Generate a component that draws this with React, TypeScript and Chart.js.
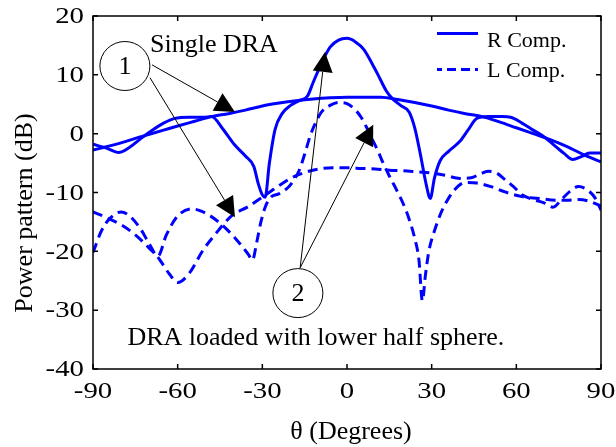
import React, { useEffect, useRef } from "react";
import { Chart, registerables } from "chart.js";

Chart.register(...registerables);

// ---- data (theta in degrees, power in dB) ----
const singleR_x = [-90,-86,-81,-75,-70,-65,-60,-54,-48,-42,-36,-30,-24,-18,-12,-6,0,6,12,18,24,30,36,42,48,54,60,66,72,78,84,90];
const singleR_y = [-2.8,-2.3,-1.7,-0.8,-0.1,0.6,1.3,2.1,2.9,3.4,4.0,4.7,5.2,5.6,5.9,6.1,6.2,6.2,6.2,5.8,5.3,4.7,4.0,3.4,2.9,2.0,1.0,0.0,-1.0,-2.2,-3.6,-4.8];

const loadedR_x = [-90,-85,-81,-77,-73,-69,-65,-61,-56,-51,-48,-44,-40,-36,-33,-31.5,-30,-29,-27.5,-25.5,-23,-20,-17,-14,-12,-9,-6,-3,0,3,6,9,11,14,16,19,22,24,26,28,29.5,31,33,36,40,43,46,50,55,58,62,66,70,74,77,80,83,86,90];
const loadedR_y = [-1.8,-2.5,-3.2,-2.3,-0.8,0.6,1.8,2.6,2.8,2.8,2.9,0.8,-1.8,-3.8,-5.6,-8.4,-10.4,-10.8,-5.0,0.7,3.4,4.8,5.6,6.4,8.7,12.0,14.7,15.9,16.2,15.6,14.3,11.8,10.0,7.2,6.0,4.8,3.7,1.0,-3.5,-8.5,-11.0,-7.5,-4.6,-3.0,-1.3,0.7,2.6,2.9,2.9,2.8,1.8,0.6,-0.6,-2.2,-3.4,-4.4,-3.9,-3.3,-3.3];

const singleL_x = [-90,-85,-80,-75,-70,-67,-63,-60,-56,-51,-46,-41,-35,-30,-27,-24,-20,-15,-10,-5,0,5,10,15,20,25,30,35,40,44,47,50,53,56,59,62,66,70,73,76,79,82,85,88,90];
const singleL_y = [-13.3,-14.3,-15.5,-17.2,-19.5,-21.0,-23.8,-25.3,-23.8,-19.8,-16.7,-14.0,-12.4,-10.8,-9.8,-8.8,-7.6,-6.6,-6.0,-5.8,-5.8,-5.9,-6.0,-6.2,-6.3,-6.5,-6.7,-7.1,-7.6,-7.5,-6.9,-6.4,-6.7,-7.8,-9.0,-10.4,-11.2,-11.8,-12.5,-11.2,-9.8,-9.0,-9.5,-11.0,-13.0];

const loadedL_x = [-90,-87,-84,-80,-77,-73,-70,-67,-64,-60,-55,-51,-45,-39,-35,-33.5,-32,-30.5,-29,-27,-24,-21,-19,-17,-15,-13,-11,-9,-6,-3,0,3,5,7,9,11,13,15,17.5,20,22,24,25.5,26.7,27.8,29,31,33,35,38,42,46,51,56,62,68,74,78,82,86,90];
const loadedL_y = [-20.2,-16.5,-14.4,-13.3,-14.0,-16.3,-18.8,-20.8,-17.2,-14.0,-12.8,-13.3,-15.2,-18.1,-20.5,-21.5,-18.5,-15.0,-12.5,-10.8,-10.2,-9.2,-8.0,-6.3,-3.5,-0.3,2.0,3.7,4.8,5.3,5.1,4.0,2.8,1.0,-1.0,-3.0,-5.2,-7.2,-9.5,-12.0,-14.5,-17.8,-21.5,-28.4,-24.0,-20.0,-16.5,-13.8,-11.8,-9.6,-8.3,-8.4,-9.0,-9.9,-10.7,-11.0,-11.3,-11.3,-11.2,-11.5,-12.3];

const xTicks = [-90, -60, -30, 0, 30, 60, 90];
const yTicks = [-40, -30, -20, -10, 0, 10, 20];

const legendLabels = ["R Comp.", "L Comp."];
const xTitle = "θ (Degrees)";
const yTitle = "Power pattern (dB)";
const noteSingle = "Single DRA";
const noteLoaded = "DRA loaded with lower half sphere.";

// annotation anchors in data units [theta, dB]
const circle1 = [-78.7, 11.5];
const circle2 = [-17.4, -27.1];
const arrows = [
  { from: [-69.1, 11.7], to: [-39.7, 3.7] },
  { from: [-69.8, 9.5], to: [-39.7, -14.2] },
  { from: [-16.6, -22.8], to: [-7.8, 13.9] },
  { from: [-16.6, -22.8], to: [9.3, 1.5] },
];
const singleTextPos = [-69.8, 13.9];
const loadedTextPos = [-77.8, -35.9];

const toPts = (xs: number[], ys: number[]) => xs.map((x, i) => ({ x, y: ys[i] }));

const SERIF = "'Liberation Serif', 'Times New Roman', serif";
const BLUE = "rgb(0,0,255)";
const STRETCH = 1.2;

const decor = {
  id: "decor",
  afterDraw(chart: any) {
    const ctx = chart.ctx;
    const { left, right, top, bottom } = chart.chartArea;
    const xs = chart.scales.x;
    const ys = chart.scales.y;
    const px = (v: number[]) => [xs.getPixelForValue(v[0]), ys.getPixelForValue(v[1])];
    ctx.save();
    // frame
    ctx.strokeStyle = "#000";
    ctx.lineWidth = 1.5;
    ctx.strokeRect(left, top, right - left, bottom - top);
    // inward ticks
    ctx.beginPath();
    xTicks.forEach((t) => {
      const x = xs.getPixelForValue(t);
      ctx.moveTo(x, bottom); ctx.lineTo(x, bottom - 5);
      ctx.moveTo(x, top); ctx.lineTo(x, top + 5);
    });
    yTicks.forEach((t) => {
      const y = ys.getPixelForValue(t);
      ctx.moveTo(left, y); ctx.lineTo(left + 5, y);
      ctx.moveTo(right, y); ctx.lineTo(right - 5, y);
    });
    ctx.stroke();

    // tick labels (slightly widened serif, like the source figure)
    ctx.fillStyle = "#000";
    ctx.font = `24px ${SERIF}`;
    ctx.textBaseline = "middle";
    ctx.textAlign = "right";
    yTicks.forEach((t) => {
      const y = ys.getPixelForValue(t);
      ctx.save();
      ctx.translate(left - 9, y + 1);
      ctx.scale(STRETCH, 1);
      ctx.fillText(String(t), 0, 0);
      ctx.restore();
    });
    ctx.textAlign = "center";
    xTicks.forEach((t) => {
      const x = xs.getPixelForValue(t);
      ctx.save();
      ctx.translate(x, bottom + 23);
      ctx.scale(STRETCH, 1);
      ctx.fillText(String(t), 0, 0);
      ctx.restore();
    });

    // legend
    ctx.lineWidth = 3;
    ctx.strokeStyle = BLUE;
    ctx.beginPath();
    ctx.moveTo(437, 33.5); ctx.lineTo(478, 33.5);
    ctx.stroke();
    ctx.setLineDash([9, 5]);
    ctx.lineDashOffset = 4;
    ctx.beginPath();
    ctx.moveTo(437, 69.5); ctx.lineTo(478, 69.5);
    ctx.stroke();
    ctx.setLineDash([]);
    ctx.lineDashOffset = 0;
    ctx.fillStyle = "#000";
    ctx.font = `22px ${SERIF}`;
    ctx.textAlign = "left";
    ctx.textBaseline = "alphabetic";
    ctx.fillText(legendLabels[0], 487, 47);
    ctx.fillText(legendLabels[1], 487, 77);

    // notes
    ctx.font = `26px ${SERIF}`;
    const s = px(singleTextPos);
    ctx.fillText(noteSingle, s[0], s[1]);
    const l = px(loadedTextPos);
    ctx.fillText(noteLoaded, l[0], l[1]);

    // circles
    ctx.strokeStyle = "#000";
    ctx.lineWidth = 1;
    [[circle1, "1"], [circle2, "2"]].forEach(([c, lab]: any) => {
      const p = px(c);
      ctx.beginPath();
      ctx.ellipse(p[0], p[1], 25, 24.5, 0, 0, Math.PI * 2);
      ctx.stroke();
      ctx.textAlign = "center";
      ctx.textBaseline = "middle";
      ctx.fillText(lab, p[0], p[1] + 1);
    });

    // arrows
    arrows.forEach((a) => {
      const p0 = px(a.from);
      const p1 = px(a.to);
      const ang = Math.atan2(p1[1] - p0[1], p1[0] - p0[0]);
      const L = 20, W = 10;
      const bx = p1[0] - L * Math.cos(ang);
      const by = p1[1] - L * Math.sin(ang);
      ctx.beginPath();
      ctx.moveTo(p0[0], p0[1]);
      ctx.lineTo(bx, by);
      ctx.stroke();
      ctx.beginPath();
      ctx.moveTo(p1[0], p1[1]);
      ctx.lineTo(bx + W * Math.sin(ang), by - W * Math.cos(ang));
      ctx.lineTo(bx - W * Math.sin(ang), by + W * Math.cos(ang));
      ctx.closePath();
      ctx.fillStyle = "#000";
      ctx.fill();
    });

    // axis titles
    ctx.fillStyle = "#000";
    ctx.font = `26px ${SERIF}`;
    ctx.textAlign = "center";
    ctx.textBaseline = "middle";
    ctx.fillText(xTitle, (left + right) / 2 + 4, 432);
    ctx.save();
    ctx.translate(25, 213);
    ctx.rotate(-Math.PI / 2);
    ctx.fillText(yTitle, 0, 0);
    ctx.restore();
    ctx.restore();
  },
};

export default function App() {
  const ref = useRef<HTMLCanvasElement>(null);
  useEffect(() => {
    const base = {
      borderColor: BLUE,
      borderWidth: 3,
      pointRadius: 0,
      fill: false,
      cubicInterpolationMode: "monotone" as const,
    };
    const chart = new Chart(ref.current!, {
      type: "line",
      data: {
        datasets: [
          { ...base, label: "R single", data: toPts(singleR_x, singleR_y) },
          { ...base, label: "R loaded", data: toPts(loadedR_x, loadedR_y) },
          { ...base, label: "L single", data: toPts(singleL_x, singleL_y), borderDash: [10, 6] },
          { ...base, label: "L loaded", data: toPts(loadedL_x, loadedL_y), borderDash: [10, 6] },
        ],
      },
      options: {
        animation: false,
        responsive: false,
        layout: { padding: { left: 0, right: 15, top: 16, bottom: 0 } },
        plugins: { legend: { display: false }, tooltip: { enabled: false } },
        scales: {
          x: {
            type: "linear",
            min: -90,
            max: 90,
            afterBuildTicks: (s: any) => { s.ticks = xTicks.map((v) => ({ value: v })); },
            afterFit: (s: any) => { s.height = 78; s.paddingLeft = 0; s.paddingRight = 0; s.paddingTop = 0; s.paddingBottom = 0; },
            grid: { display: false },
            border: { display: false },
            ticks: { display: false },
          },
          y: {
            type: "linear",
            min: -40,
            max: 20,
            afterBuildTicks: (s: any) => { s.ticks = yTicks.map((v) => ({ value: v })); },
            afterFit: (s: any) => { s.width = 93; s.paddingLeft = 0; s.paddingRight = 0; s.paddingTop = 0; s.paddingBottom = 0; },
            grid: { display: false },
            border: { display: false },
            ticks: { display: false },
          },
        },
      },
      plugins: [decor],
    });
    return () => chart.destroy();
  }, []);
  return (
    <div style={{ position: "absolute", left: 0, top: 0, width: 616, height: 447, background: "#fff" }}>
      <canvas ref={ref} width={616} height={447} style={{ display: "block" }} />
    </div>
  );
}
